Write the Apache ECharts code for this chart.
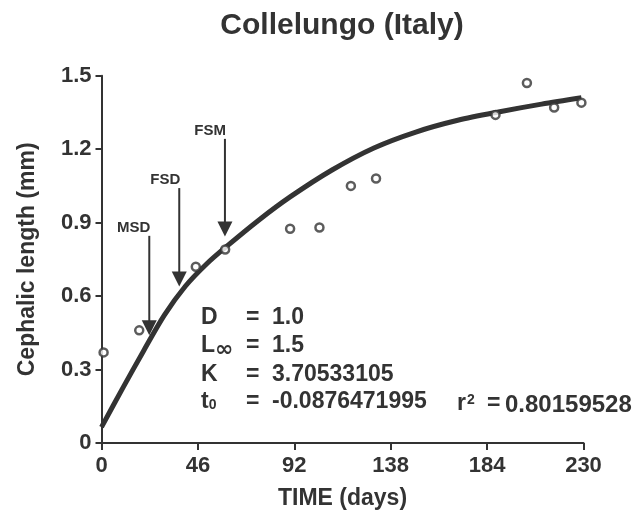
<!DOCTYPE html>
<html>
<head>
<meta charset="utf-8">
<script src="https://cdn.jsdelivr.net/npm/echarts@6/dist/echarts.min.js"></script>
<style>
  html, body { margin: 0; padding: 0; background: #ffffff; }
  #chart { width: 633px; height: 518px; }
</style>
</head>
<body>
<div id="chart"></div>
<script>
// Observed cephalic lengths (mm) by age (days)
const sampleDays = [1, 18, 45, 59, 90, 104, 119, 131, 188, 203, 216, 229];
const sampleLength = [0.37, 0.46, 0.72, 0.79, 0.875, 0.88, 1.05, 1.08, 1.34, 1.47, 1.37, 1.39];

// Fitted growth curve, read at sampled ages
const curveDays = [0, 10, 20, 30, 40, 50, 60, 75, 90, 110, 130, 150, 170, 190, 210, 229];
const curveLength = [0.065, 0.222, 0.375, 0.522, 0.64, 0.73, 0.805, 0.91, 1.005, 1.115, 1.205, 1.27, 1.318, 1.353, 1.384, 1.41];

// Developmental stage markers (arrow from top value down to tip value)
const stageNames = ['MSD', 'FSD', 'FSM'];
const stageDays = [22.8, 37.1, 58.9];
const stageTop = [0.846, 1.041, 1.242];
const stageTip = [0.44, 0.639, 0.843];

// Axis ticks
const xTicks = [0, 46, 92, 138, 184, 230];
const yTicks = [0, 0.3, 0.6, 0.9, 1.2, 1.5];

// Model parameters shown on the plot
const paramD = '1.0';
const paramLinf = '1.5';
const paramK = '3.70533105';
const paramT0 = '-0.0876471995';
const paramR2 = '0.80159528';

const INK = '#333333';
const FONT = '"Liberation Sans", Arial, Helvetica, sans-serif';

const chart = echarts.init(document.getElementById('chart'), null, { renderer: 'canvas' });

const curveData = curveDays.map((d, i) => [d, curveLength[i]]);
const sampleData = sampleDays.map((d, i) => [d, sampleLength[i]]);
const stageData = stageDays.map((d, i) => [d, stageTop[i], stageTip[i]]);

const GRID = { left: 101.5, right: 49.5, top: 75.7, bottom: 75 };

function textEl(x, y, content, size, align, rich) {
  return {
    type: 'text', x: x, y: y, silent: true,
    style: {
      text: content, fill: INK, align: align || 'left', verticalAlign: 'middle',
      font: 'bold ' + size + 'px ' + FONT, rich: rich
    }
  };
}

const subRich = {
  b: { fontFamily: FONT, fontWeight: 'bold', fontSize: 23, fill: INK, lineHeight: 26 },
  inf: { fontFamily: 'DejaVu Sans', fontWeight: 'bold', fontSize: 22, fill: INK, lineHeight: 26, padding: [9, 0, 0, 0] },
  sub: { fontFamily: FONT, fontWeight: 'bold', fontSize: 14, fill: INK, lineHeight: 26, padding: [6, 0, 0, 0] },
  sup: { fontFamily: FONT, fontWeight: 'bold', fontSize: 14, fill: INK, lineHeight: 26, padding: [0, 0, 8, 1] },
  v: { fontFamily: FONT, fontWeight: 'bold', fontSize: 24, fill: INK, lineHeight: 26 }
};

const option = {
  animation: false,
  backgroundColor: '#ffffff',
  grid: GRID,
  xAxis: {
    type: 'value', min: 0, max: 230, interval: 46,
    name: 'TIME (days)', nameLocation: 'middle', nameGap: 44,
    nameTextStyle: { fontFamily: FONT, fontWeight: 'bold', fontSize: 23, color: INK },
    axisLine: { show: true, onZero: false, lineStyle: { color: INK, width: 2 } },
    axisTick: { show: true, length: 7, lineStyle: { color: INK, width: 2 } },
    axisLabel: {
      margin: 12, fontFamily: FONT, fontWeight: 'bold', fontSize: 22, color: INK,
      formatter: v => xTicks.indexOf(v) >= 0 ? String(v) : ''
    },
    splitLine: { show: false }
  },
  yAxis: {
    type: 'value', min: 0, max: 1.5, interval: 0.3,
    name: 'Cephalic length (mm)', nameLocation: 'middle', nameGap: 62, nameRotate: 90,
    nameTextStyle: { fontFamily: FONT, fontWeight: 'bold', fontSize: 23, color: INK },
    axisLine: { show: true, onZero: false, lineStyle: { color: INK, width: 2 } },
    axisTick: { show: true, length: 6, lineStyle: { color: INK, width: 2 } },
    axisLabel: {
      margin: 10, fontFamily: FONT, fontWeight: 'bold', fontSize: 22, color: INK,
      formatter: v => {
        const t = yTicks.find(y => Math.abs(y - v) < 1e-9);
        if (t === undefined) return '';
        return t === 0 ? '0' : t.toFixed(1);
      }
    },
    splitLine: { show: false }
  },
  series: [
    {
      name: 'fit', type: 'line', data: curveData, smooth: 0.3, showSymbol: false,
      lineStyle: { color: INK, width: 5, cap: 'butt' }, z: 2
    },
    {
      name: 'observed', type: 'scatter', data: sampleData, symbol: 'circle', symbolSize: 8,
      itemStyle: { color: '#ffffff', borderColor: INK, borderWidth: 2.5 }, z: 4
    },
    {
      name: 'stages', type: 'custom', data: stageData, z: 3,
      renderItem: (params, api) => {
        const x = api.value(0);
        const p1 = api.coord([x, api.value(1)]);
        const p2 = api.coord([x, api.value(2)]);
        const headH = 15, headW = 7.5;
        return {
          type: 'group',
          children: [
            { type: 'line', shape: { x1: p1[0], y1: p1[1], x2: p2[0], y2: p2[1] - headH + 1 },
              style: { stroke: INK, lineWidth: 2 } },
            { type: 'polygon',
              shape: { points: [[p2[0] - headW, p2[1] - headH], [p2[0] + headW, p2[1] - headH], [p2[0], p2[1]]] },
              style: { fill: INK } },
            { type: 'text',
              style: { text: stageNames[params.dataIndex], x: p1[0] + 1, y: p1[1] - 8,
                       align: 'right', verticalAlign: 'middle', fill: INK,
                       font: 'bold 15px ' + FONT } }
          ]
        };
      }
    }
  ],
  graphic: [
    textEl(342, 26, 'Collelungo (Italy)', 30, 'center'),
    textEl(201, 318, 'D', 23),
    textEl(201, 346, '{b|L}{inf|∞}', 23, 'left', subRich),
    textEl(201, 375, 'K', 23),
    textEl(201, 402, '{b|t}{sub|0}', 23, 'left', subRich),
    textEl(246, 318, '=', 23),
    textEl(246, 346, '=', 23),
    textEl(246, 375, '=', 23),
    textEl(246, 402, '=', 23),
    textEl(272, 318, paramD, 23),
    textEl(272, 346, paramLinf, 23),
    textEl(272, 375, paramK, 23),
    textEl(272, 402, paramT0, 23),
    textEl(457, 404, '{b|r}{sup|2}', 23, 'left', subRich),
    textEl(487, 404, '=', 23),
    textEl(505, 405, '{v|' + paramR2 + '}', 24, 'left', subRich)
  ]
};

chart.setOption(option);
</script>
</body>
</html>
